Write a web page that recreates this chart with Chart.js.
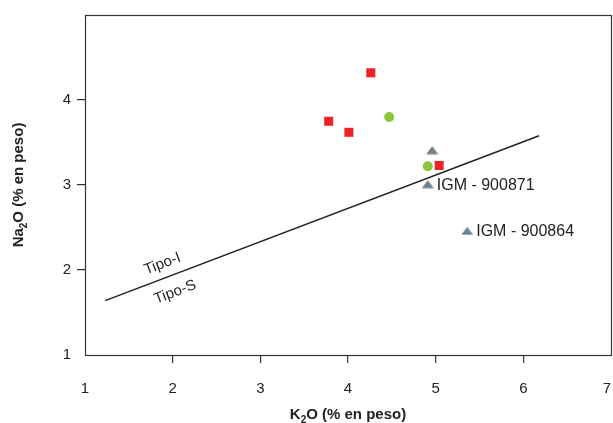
<!DOCTYPE html>
<html>
<head>
<meta charset="utf-8">
<script src="https://cdn.jsdelivr.net/npm/chart.js@4.4.0/dist/chart.umd.min.js"></script>
<style>
  html, body { margin: 0; padding: 0; background: #fff; }
</style>
</head>
<body>
<canvas id="na2oChart" width="613" height="423"></canvas>
<script>
// values
var redK2O = [4.26, 3.78, 4.01, 5.04];
var redNa2O = [4.32, 3.75, 3.62, 3.23];
var greenK2O = [4.47, 4.91];
var greenNa2O = [3.80, 3.22];
var igmK2O = [4.96, 4.91, 5.36];
var igmNa2O = [3.41, 3.01, 2.46];
var igmNames = ['', 'IGM - 900871', 'IGM - 900864'];
var lineK2O = [1.23, 6.18];
var lineNa2O = [1.64, 3.58];
var fieldNames = ['Tipo-I', 'Tipo-S'];
var fieldK2O = [1.94, 1.96];
var xTicks = [1, 2, 3, 4, 5, 6, 7];
var yTicks = [1, 2, 3, 4];

var FONT = "'Liberation Sans', Arial, Helvetica, sans-serif";

function toPoints(xs, ys) {
    return xs.map(function (x, i) { return { x: x, y: ys[i] }; });
}

// flat grey triangle marker
var tri = document.createElement('canvas');
tri.width = 13; tri.height = 9;
var tctx = tri.getContext('2d');
tctx.fillStyle = '#6d808d';
tctx.beginPath();
tctx.moveTo(6.5, 0.5);
tctx.lineTo(12.5, 8.5);
tctx.lineTo(0.5, 8.5);
tctx.closePath();
tctx.fill();

function drawSubText(ctx, pre, sub, post, cx, cy) {
    var big = 'bold 15px ' + FONT, small = 'bold 10px ' + FONT;
    ctx.font = big;
    var w1 = ctx.measureText(pre).width, w3 = ctx.measureText(post).width;
    ctx.font = small;
    var w2 = ctx.measureText(sub).width;
    var x = cx - (w1 + w2 + w3) / 2;
    ctx.textAlign = 'left';
    ctx.textBaseline = 'alphabetic';
    ctx.font = big;
    ctx.fillText(pre, x, cy + 5);
    ctx.font = small;
    ctx.fillText(sub, x + w1, cy + 9);
    ctx.font = big;
    ctx.fillText(post, x + w1 + w2, cy + 5);
}

var decorPlugin = {
    id: 'decor',
    afterDraw: function (chart) {
        var ctx = chart.ctx, a = chart.chartArea;
        var xs = chart.scales.x, ys = chart.scales.y;
        ctx.save();
        // frame
        ctx.strokeStyle = '#333';
        ctx.lineWidth = 1.2;
        ctx.strokeRect(a.left + 0.5, a.top + 0.5, a.right - a.left, a.bottom - a.top);

        ctx.fillStyle = '#222';
        // axis titles
        drawSubText(ctx, 'K', '2', 'O (% en peso)', (a.left + a.right) / 2, 414);
        ctx.save();
        ctx.translate(18, (a.top + a.bottom) / 2);
        ctx.rotate(-Math.PI / 2);
        drawSubText(ctx, 'Na', '2', 'O (% en peso)', 0, 0);
        ctx.restore();

        // sample labels
        ctx.font = '16px ' + FONT;
        ctx.textAlign = 'left';
        ctx.textBaseline = 'middle';
        igmNames.forEach(function (name, i) {
            if (!name) return;
            ctx.fillText(name, xs.getPixelForValue(igmK2O[i]) + 9, ys.getPixelForValue(igmNa2O[i]) + 1);
        });

        // field labels along the divider line
        var x1 = xs.getPixelForValue(lineK2O[0]), y1 = ys.getPixelForValue(lineNa2O[0]);
        var x2 = xs.getPixelForValue(lineK2O[1]), y2 = ys.getPixelForValue(lineNa2O[1]);
        var ang = Math.atan2(y2 - y1, x2 - x1);
        var offs = [-14, 17];
        ctx.font = '15px ' + FONT;
        ctx.textAlign = 'center';
        fieldNames.forEach(function (name, i) {
            var px = xs.getPixelForValue(fieldK2O[i]);
            var py = y1 + (px - x1) * (y2 - y1) / (x2 - x1);
            ctx.save();
            ctx.translate(px, py);
            ctx.rotate(ang);
            ctx.fillText(name, 0, offs[i]);
            ctx.restore();
        });
        ctx.restore();
    }
};

var ctx = document.getElementById('na2oChart');
var na2oChart = new Chart(ctx, {
    type: 'scatter',
    data: {
        datasets: [
            {
                label: 'divider',
                data: toPoints(lineK2O, lineNa2O),
                showLine: true,
                borderColor: '#222',
                borderWidth: 1.5,
                pointRadius: 0
            },
            {
                label: 'red',
                data: toPoints(redK2O, redNa2O),
                pointStyle: 'rect',
                pointRadius: 6.4,
                backgroundColor: '#ec2227',
                borderWidth: 0
            },
            {
                label: 'green',
                data: toPoints(greenK2O, greenNa2O),
                pointStyle: 'circle',
                pointRadius: 5,
                backgroundColor: '#8cc63f',
                borderWidth: 0
            },
            {
                label: 'IGM',
                data: toPoints(igmK2O, igmNa2O),
                pointStyle: tri,
                borderWidth: 0
            }
        ]
    },
    options: {
        responsive: false,
        animation: false,
        layout: { autoPadding: false, padding: { left: 0, top: 14, right: 2, bottom: 0 } },
        plugins: {
            legend: { display: false },
            tooltip: { enabled: false }
        },
        scales: {
            x: {
                min: 1,
                max: 7,
                afterFit: function (scale) {
                    scale.height = 68;
                    scale.paddingLeft = 0;
                    scale.paddingRight = 0;
                },
                border: { display: false },
                grid: {
                    drawOnChartArea: false,
                    drawTicks: true,
                    tickLength: 8,
                    lineWidth: 1.2,
                    color: function (c) {
                        var v = c.tick ? c.tick.value : 0;
                        return (v > xTicks[0] && v < xTicks[xTicks.length - 1]) ? '#333' : 'rgba(0,0,0,0)';
                    }
                },
                ticks: {
                    stepSize: 1,
                    autoSkip: false,
                    maxRotation: 0,
                    padding: 17,
                    color: '#222',
                    font: { family: FONT, size: 15 },
                    callback: function (v) {
                        if (xTicks.indexOf(v) < 0) return '';
                        // last label sits on the frame edge, nudge it inside
                        return v === xTicks[xTicks.length - 1] ? v + '  ' : String(v);
                    }
                }
            },
            y: {
                min: 1,
                max: 5,
                afterFit: function (scale) {
                    scale.width = 85;
                },
                border: { display: false },
                grid: {
                    drawOnChartArea: false,
                    drawTicks: true,
                    tickLength: 8,
                    lineWidth: 1.2,
                    color: function (c) {
                        var v = c.tick ? c.tick.value : 0;
                        return (v > yTicks[0] && v <= yTicks[yTicks.length - 1]) ? '#333' : 'rgba(0,0,0,0)';
                    }
                },
                ticks: {
                    stepSize: 1,
                    padding: 6,
                    color: '#222',
                    font: { family: FONT, size: 15 },
                    callback: function (v) { return yTicks.indexOf(v) >= 0 ? String(v) : ''; }
                }
            }
        }
    },
    plugins: [decorPlugin]
});
</script>
</body>
</html>
